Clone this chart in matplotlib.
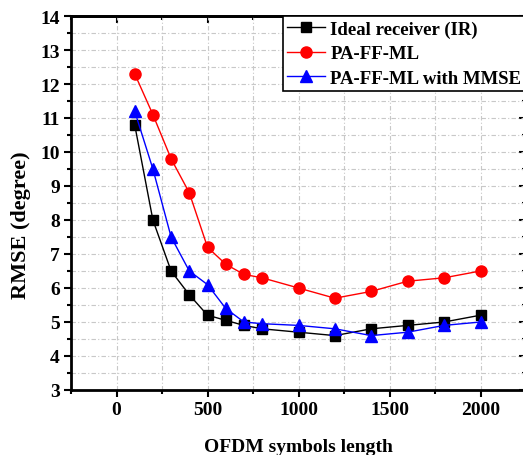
import numpy as np
import matplotlib
matplotlib.use("Agg")
import matplotlib.pyplot as plt
from matplotlib.ticker import MultipleLocator

plt.rcParams['font.family'] = ['Liberation Serif', 'DejaVu Serif']
plt.rcParams['font.weight'] = 'bold'

# symbol lengths and RMSE for the three receivers
n_sym = [100, 200, 300, 400, 500, 600, 700, 800, 1000, 1200, 1400, 1600, 1800, 2000]
rmse_ir = [10.8, 8.0, 6.5, 5.8, 5.2, 5.05, 4.9, 4.8, 4.7, 4.6, 4.8, 4.9, 5.0, 5.2]
rmse_ffml = [12.3, 11.1, 9.8, 8.8, 7.2, 6.7, 6.4, 6.3, 6.0, 5.7, 5.9, 6.2, 6.3, 6.5]
rmse_mmse = [11.2, 9.5, 7.5, 6.5, 6.1, 5.4, 5.0, 4.95, 4.9, 4.8, 4.6, 4.7, 4.9, 5.0]

fig = plt.figure(figsize=(5.23, 4.56), dpi=100)
ax = fig.add_axes([71/523, 1 - 391/456, 455/523, 374/456])

ax.plot(n_sym, rmse_ir, 'k-s', lw=1, ms=7, label='Ideal receiver (IR)')
ax.plot(n_sym, rmse_ffml, 'r-o', lw=1, ms=8, label='PA-FF-ML')
ax.plot(n_sym, rmse_mmse, 'b-^', lw=1, ms=8, label='PA-FF-ML with MMSE')

ax.set_xlim(-250, 2250)
ax.set_ylim(3, 14)
ax.xaxis.set_major_locator(MultipleLocator(500))
ax.xaxis.set_minor_locator(MultipleLocator(250))
ax.yaxis.set_major_locator(MultipleLocator(1))
ax.yaxis.set_minor_locator(MultipleLocator(0.5))

ax.grid(True, which='both', ls=(0, (4, 2, 1, 2)), color='#c8c8c8', lw=0.8)
ax.set_axisbelow(True)

for s in ax.spines.values():
    s.set_linewidth(2)
ax.tick_params(which='both', direction='out', width=1.5, labelsize=14, pad=3)
ax.tick_params(which='major', length=5)
ax.tick_params(which='minor', length=3)

# inward ticks on the top and right edges
sec_x = ax.secondary_xaxis('top')
sec_x.xaxis.set_major_locator(MultipleLocator(500))
sec_x.xaxis.set_minor_locator(MultipleLocator(250))
sec_x.tick_params(which='both', direction='in', width=1.5, labeltop=False)
sec_x.tick_params(which='major', length=5)
sec_x.tick_params(which='minor', length=3)
sec_y = ax.secondary_yaxis('right')
sec_y.yaxis.set_major_locator(MultipleLocator(1))
sec_y.yaxis.set_minor_locator(MultipleLocator(0.5))
sec_y.tick_params(which='both', direction='in', width=1.5, labelright=False)
sec_y.tick_params(which='major', length=5)
sec_y.tick_params(which='minor', length=3)
for s in list(sec_x.spines.values()) + list(sec_y.spines.values()):
    s.set_linewidth(2)

ax.set_xlabel('OFDM symbols length', fontsize=14, fontweight='bold', labelpad=14)
ax.set_ylabel('RMSE (degree)', fontsize=16, fontweight='bold')
ax.yaxis.set_label_coords(-0.088, 0.444)

leg = ax.legend(loc='upper right', bbox_to_anchor=(1.0, 1.0), fontsize=13.5,
                fancybox=False, edgecolor='black', framealpha=1,
                borderaxespad=0, handlelength=2.0, labelspacing=0.38,
                borderpad=0.25, handletextpad=0.3)
leg.get_frame().set_linewidth(1.2)

fig.savefig('out.png', dpi=100)
